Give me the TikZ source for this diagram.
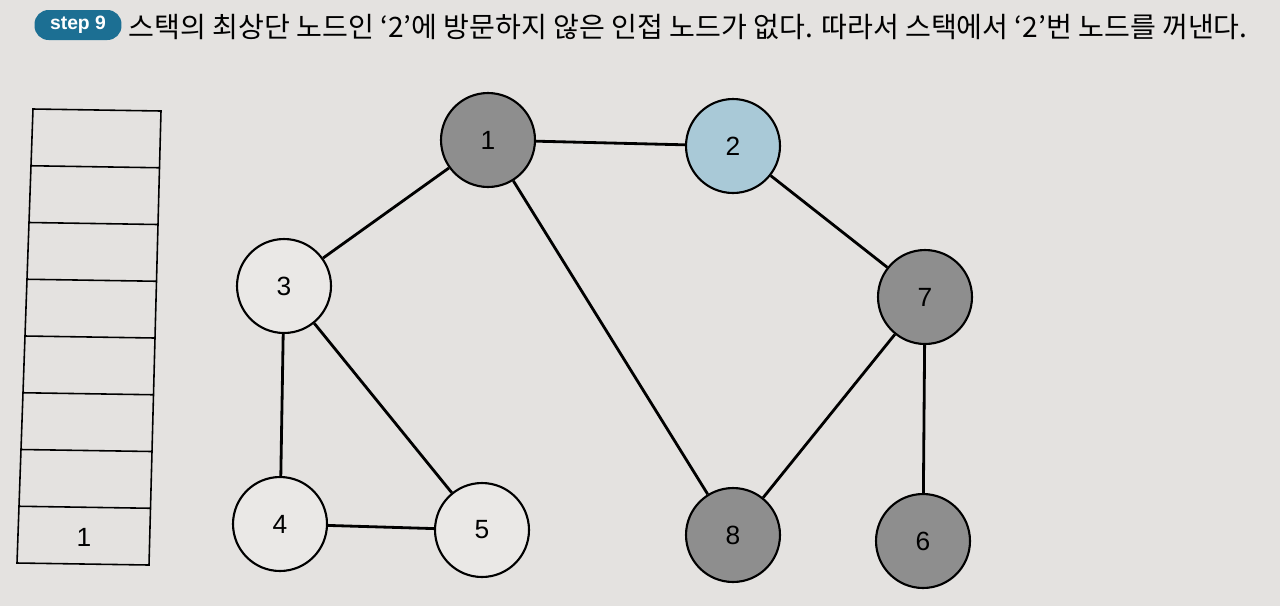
\documentclass[tikz,border=0pt]{standalone}
\usepackage{fontspec}
\setmainfont{Liberation Sans}
\newfontfamily\krfont{Noto Sans CJK KR}
\usetikzlibrary{calc}
\definecolor{paper}{HTML}{E4E2E0}
\definecolor{visited}{HTML}{8E8E8E}
\definecolor{current}{HTML}{A9C9D7}
\definecolor{fresh}{HTML}{EAE8E6}
\definecolor{badge}{HTML}{1C6F93}

\begin{document}
\begin{tikzpicture}[x=0.02cm, y=-0.02cm, thick]
    % Style definitions
    \tikzset{vertex/.style={draw, circle, line width=1.2pt, minimum size=1.88cm, inner sep=0pt, fill=fresh, font=\fontsize{15}{17}\selectfont}}
    \tikzset{done/.style={vertex, fill=visited}}
    \tikzset{current/.style={vertex, fill=current}}
    \tikzset{edge/.style={line width=1.6pt}}
    \tikzset{cell/.style={line width=0.9pt}}

    % Paper
    \fill [paper] (0,0) rectangle (1280,606);

    % Header
    \node [fill=badge, rounded corners=8pt, text=white, minimum width=1.74cm, minimum height=0.6cm, inner sep=0pt, font=\bfseries\fontsize{11}{13}\selectfont] (badge) at (78,25) {step 9};
    \node [anchor=west, inner sep=0pt, font=\krfont\fontsize{16}{18}\selectfont] (title) at (128,27) {스택의 최상단 노드인 ‘2’에 방문하지 않은 인접 노드가 없다. 따라서 스택에서 ‘2’번 노드를 꺼낸다.};

    % Stack
    \coordinate (stl) at (33,109);
    \coordinate (str) at (161,111);
    \coordinate (sbl) at (17,563);
    \coordinate (sbr) at (149,565);
    \draw [cell] (stl) -- (str) -- (sbr) -- (sbl) -- cycle;
    \foreach \k in {1,...,7}
        \draw [cell] ($(stl)!\k/8!(sbl)$) -- ($(str)!\k/8!(sbr)$);
    \node [font=\fontsize{15}{17}\selectfont] (slot1) at (84,537) {1};

    % Nodes
    \node [done] (n1) at (488,140) {1};
    \node [current] (n2) at (733,146) {2};
    \node [vertex] (n3) at (284,286) {3};
    \node [vertex] (n4) at (280,524) {4};
    \node [vertex] (n5) at (482,530) {5};
    \node [done] (n7) at (925,297) {7};
    \node [done] (n8) at (733,535) {8};
    \node [done] (n6) at (923,541) {6};

    % Edges
    \draw [edge] (n1) -- (n2);
    \draw [edge] (n1) -- (n3);
    \draw [edge] (n1) -- (n8);
    \draw [edge] (n2) -- (n7);
    \draw [edge] (n3) -- (n4);
    \draw [edge] (n3) -- (n5);
    \draw [edge] (n4) -- (n5);
    \draw [edge] (n7) -- (n8);
    \draw [edge] (n7) -- (n6);
\end{tikzpicture}
\end{document}
